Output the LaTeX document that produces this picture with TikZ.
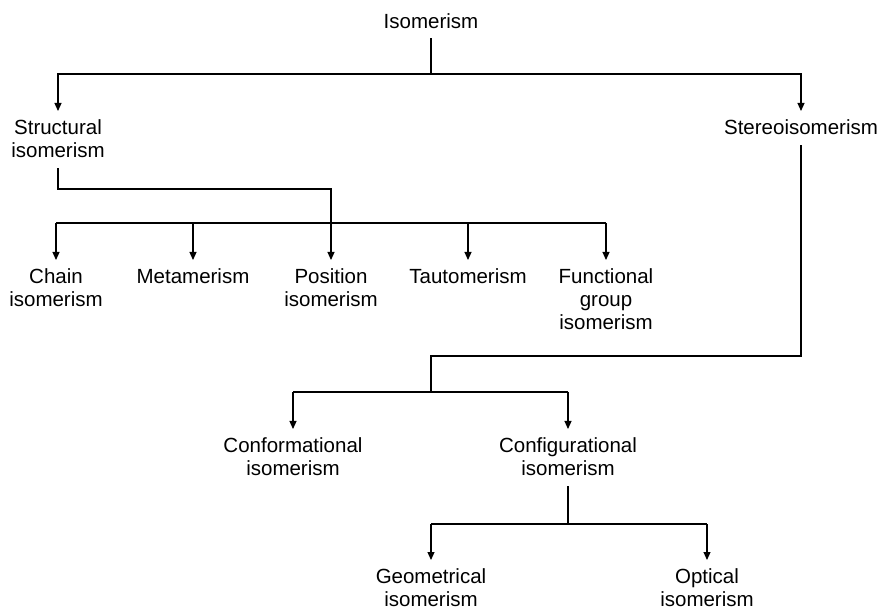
\documentclass[tikz,border=0pt]{standalone}
\usepackage{fontspec}
\setmainfont{Liberation Sans}
\usetikzlibrary{arrows.meta}
\begin{document}
\begin{tikzpicture}[x=1pt, y=-1pt,
  every node/.style={align=center, anchor=north, inner xsep=0pt, inner ysep=0pt,
    font=\fontsize{20.5}{23}\selectfont},
  link/.style={line width=1.1pt},
  from/.style={shorten <=11pt},
  arrow/.style={link, shorten >=8pt, -{Triangle[length=8pt,width=7pt]}}]
\useasboundingbox (0,0) rectangle (881,609);
% tree
\node (iso) at (431,13) {Isomerism};
\node (struct) at (58,119) {Structural\\isomerism};
\node (stereo) at (801,119) {Stereoisomerism};
\node (chain) at (56,268) {Chain\\isomerism};
\node (meta) at (193,268) {Metamerism};
\node (posn) at (331,268) {Position\\isomerism};
\node (taut) at (468,268) {Tautomerism};
\node (func) at (606,268) {Functional\\group\\isomerism};
\node (conf) at (293,437) {Conformational\\isomerism};
\node (config) at (568,437) {Configurational\\isomerism};
\node (geo) at (431,568) {Geometrical\\isomerism};
\node (opt) at (707,568) {Optical\\isomerism};
\coordinate (j1) at (431,74);
\coordinate (j2) at (331,189);
\coordinate (j3) at (331,223);
\coordinate (j4) at (431,356);
\coordinate (j5) at (431,392);
\coordinate (j6) at (568,524);
\draw[link, shorten <=10pt] (iso) -- (j1);
\draw[arrow] (j1) -| (struct);
\draw[arrow] (j1) -| (stereo);
\draw[link, from] (struct) |- (j2) -- (j3);
\draw[link] (chain.north |- j3) -- (func.north |- j3);
\foreach \n in {chain,meta,posn,taut,func}
  \draw[arrow] (\n.north |- j3) -- (\n);
\draw[link, from] (stereo) |- (j4) -- (j5);
\draw[link] (conf.north |- j5) -- (config.north |- j5);
\foreach \n in {conf,config}
  \draw[arrow] (\n.north |- j5) -- (\n);
\draw[link, from] (config) -- (j6);
\draw[link] (geo.north |- j6) -- (opt.north |- j6);
\foreach \n in {geo,opt}
  \draw[arrow] (\n.north |- j6) -- (\n);
\end{tikzpicture}
\end{document}
